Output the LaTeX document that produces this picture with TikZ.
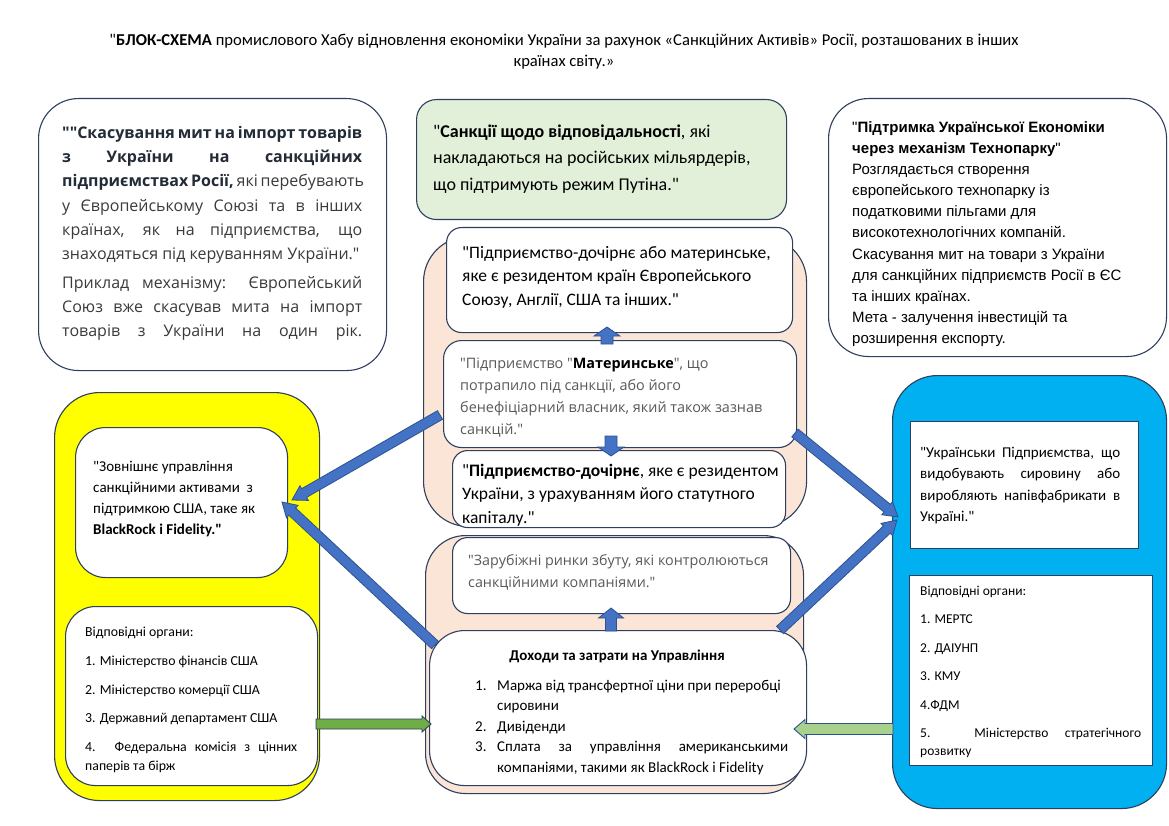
\documentclass[tikz,border=0pt]{standalone}
\usepackage{fontspec}
\setmainfont{Carlito}[Ligatures=TeXOff]
\newfontfamily\osans{Open Sans}
\newfontfamily\lsans{Liberation Sans}
\usetikzlibrary{calc}
\definecolor{bordc}{HTML}{2F3F5F}
\definecolor{peach}{HTML}{FBE5D6}
\definecolor{lgreen}{HTML}{E2F0D9}
\definecolor{ybox}{HTML}{FFFF00}
\definecolor{bbox}{HTML}{00B0F0}
\definecolor{arrblue}{HTML}{4472C4}
\definecolor{arrline}{HTML}{2F528F}
\definecolor{garr}{HTML}{70AD47}
\definecolor{garrl}{HTML}{A9D18E}
\definecolor{greytxt}{HTML}{595959}
\definecolor{tltxt}{HTML}{3A3A3A}
\definecolor{tlbold}{HTML}{222B36}
\newcommand{\jl}[2]{\makebox[#1][s]{#2}}
\newcommand{\fs}[2]{\fontsize{#1}{#2}\selectfont}
\newcommand{\st}{\rule{0pt}{1em}}
\newcommand{\barrow}[6]{%
  \coordinate (bP) at ($(#3)!#6!(#2)$);
  \filldraw[#1] ($(#2)!#4!90:(#3)$) -- ($(bP)!#4!90:(#3)$) -- ($(bP)!#5!90:(#3)$) -- (#3)
    -- ($(bP)!#5!-90:(#3)$) -- ($(bP)!#4!-90:(#3)$) -- ($(#2)!#4!-90:(#3)$) -- cycle;}
\tikzset{
  box/.style={draw=bordc, line width=1.1pt, rectangle, anchor=north west, inner sep=0pt},
  txt/.style={anchor=north west, inner sep=0pt, align=left},
  trline/.style={anchor=base west, inner sep=0pt, font=\lsans\fs{15}{21}},
  bluearr/.style={fill=arrblue, draw=arrline, line width=0.8pt},
  greenarr/.style={fill=garr, draw=bordc, line width=0.9pt},
  lgreenarr/.style={fill=garrl, draw=arrline, line width=0.9pt},
}
\begin{document}
\begin{tikzpicture}[x=1pt,y=-1pt]
\useasboundingbox (0,0) rectangle (1169,826);
\fill[white] (0,0) rectangle (1169,826);

% title
\node[anchor=north, inner sep=0pt, align=center, font=\fs{16.6}{21}] (title) at (564,28.4)
 {\st"\textbf{БЛОК-СХЕМА} промислового Хабу відновлення економіки України за рахунок «Санкційних Активів» Росії, розташованих в інших\\країнах світу.»};

% top row boxes
\node[box, rounded corners=40pt, fill=white, minimum width=348pt, minimum height=272pt] (tl) at (38,98) {};
\node[box, rounded corners=20pt, fill=lgreen, minimum width=370pt, minimum height=120pt] (tm) at (416,99) {};
\node[box, rounded corners=40pt, fill=white, minimum width=338pt, minimum height=258pt] (tr) at (828,98) {};

\node[txt, font=\osans\fs{16}{24.3}, text=tltxt] (tltext) at (62,122) {\st\jl{300pt}{\textcolor{tlbold}{\textbf{""Скасування мит на імпорт товарів}}}\\
\jl{300pt}{\textcolor{tlbold}{\textbf{з України на санкційних}}}\\
\jl{300pt}{\textcolor{tlbold}{\textbf{підприємствах Росії,}} які перебувають}\\
\jl{300pt}{у Європейському Союзі та в інших}\\
\jl{300pt}{країнах, як на підприємства, що}\\
знаходяться під керуванням України."\\[4pt]
\jl{300pt}{Приклад механізму: Європейський}\\
\jl{300pt}{Союз вже скасував мита на імпорт}\\
\jl{300pt}{товарів з України на один рік.}};

\node[txt, font=\fs{18}{26.5}] (tmtext) at (433,119) {\st"\textbf{Санкції щодо відповідальності}, які\\накладаються на російських мільярдерів,\\що підтримують режим Путіна."};

\node[trline] (tr1) at (852,133) {"\textbf{Підтримка Української Економіки}};
\node[trline] (tr2) at (852,154) {\textbf{через механізм Технопарку}"};
\node[trline] (tr3) at (852,175) {Розглядається створення};
\node[trline] (tr4) at (852,196) {європейського технопарку із};
\node[trline] (tr5) at (852,217) {податковими пільгами для};
\node[trline] (tr6) at (852,238) {високотехнологічних компаній.};
\node[trline] (tr7) at (852,259) {Скасування мит на товари з України};
\node[trline] (tr8) at (852,280) {для санкційних підприємств Росії в ЄС};
\node[trline] (tr9) at (852,301) {та інших країнах.};
\node[trline] (tr10) at (852,322) {Мета - залучення інвестицій та};
\node[trline] (tr11) at (852,343) {розширення експорту.};

% left yellow group
\node[box, rounded corners=45pt, fill=ybox, minimum width=265pt, minimum height=408pt] (yel) at (54,392) {};
\node[box, rounded corners=30pt, fill=white, minimum width=212pt, minimum height=150pt] (fbox) at (75,427) {};
\node[box, rounded corners=30pt, fill=white, minimum width=252pt, minimum height=179pt] (gbox) at (65,606) {};
\node[txt, font=\fs{15}{21}] (ftext) at (93,456) {\st"Зовнішнє управління\\санкційними активами\ \ з\\підтримкою США, таке як\\\textbf{BlackRock і Fidelity."}};
\node[txt, font=\fs{13.8}{19}] (gtext) at (85,622.5) {\st Відповідні органи:\\[10pt]1. Міністерство фінансів США\\[10pt]2. Міністерство комерції США\\[9pt]3. Державний департамент США\\[10pt]\jl{212pt}{4. Федеральна комісія з цінних}\\паперів та бірж};

% right blue group
\node[box, rounded corners=45pt, fill=bbox, minimum width=274pt, minimum height=433pt] (blu) at (892,375) {};
\node[box, fill=white, minimum width=228pt, minimum height=127pt] (hbox) at (910,421) {};
\node[box, fill=white, minimum width=243pt, minimum height=190pt] (ibox) at (909,575) {};
\node[txt, font=\fs{15}{21.5}] (htext) at (920,442) {\st\jl{200pt}{"Українськи Підприємства, що}\\\jl{200pt}{видобувають сировину або}\\\jl{200pt}{виробляють напівфабрикати в}\\Україні."};
\node[txt, font=\fs{13.5}{18}] (itext) at (920,581.5) {\st Відповідні органи:\\[10.5pt]1. МЕРТС\\[10.5pt]2. ДАІУНП\\[10.5pt]3. КМУ\\[10.5pt]4.ФДМ\\[10pt]\jl{221pt}{5. Міністерство стратегічного}\\розвитку};

% middle upper group
\node[box, rounded corners=45pt, fill=peach, minimum width=383pt, minimum height=290pt] (peach1) at (423,236) {};
\node[box, rounded corners=15pt, fill=white, minimum width=346pt, minimum height=105pt] (abox) at (446,227) {};
\node[box, rounded corners=18pt, fill=white, minimum width=353pt, minimum height=107pt] (bbx) at (443,340) {};
\node[box, rounded corners=15pt, fill=white, minimum width=333pt, minimum height=77pt] (cbox) at (452,450) {};
\node[txt, font=\fs{17.5}{23.5}] (atext) at (462,240.5) {\st"Підприємство-дочірнє або материнське,\\яке є резидентом країн Європейського\\Союзу, Англії, США та інших."};
\node[txt, font=\osans\fs{14.4}{22}, text=greytxt] (btext) at (460,354) {\st"Підприємство "\textcolor{black}{\textbf{Материнське}}", що\\потрапило під санкції, або його\\бенефіціарний власник, який також зазнав\\санкцій."};
\node[txt, font=\fs{17.5}{23.5}] (ctext) at (462,458.5) {\st"\textbf{Підприємство-дочірнє}, яке є резидентом\\України, з урахуванням його статутного\\капіталу."};

% middle lower group
\node[box, rounded corners=40pt, fill=peach, minimum width=378pt, minimum height=258pt] (peach2) at (425,535) {};
\node[box, rounded corners=15pt, fill=white, minimum width=338pt, minimum height=76pt] (dbox) at (452,537) {};
\node[box, rounded corners=35pt, fill=white, minimum width=377pt, minimum height=155pt] (ebox) at (429,630) {};
\node[txt, font=\osans\fs{14.3}{22}, text=greytxt] (dtext) at (468,551) {\st"Зарубіжні ринки збуту, які контролюються\\санкційними компаніями."};
\node[anchor=north, inner sep=0pt, font=\fs{15}{20}] (etitle) at (617,645) {\st\textbf{Доходи та затрати на Управління}};
\node[txt, font=\fs{15}{20.5}] (etext) at (475,675) {\st\makebox[22pt][l]{1.}Маржа від трансфертної ціни при переробці\\
\hspace*{22pt}сировини\\
\makebox[22pt][l]{2.}Дивіденди\\
\makebox[22pt][l]{3.}\jl{291pt}{Сплата за управління американськими}\\
\hspace*{22pt}компаніями, такими як BlackRock і Fidelity};

% arrow end points
\coordinate (upAs) at (607,344);  \coordinate (upAe) at (607,327);
\coordinate (dnCs) at (611,436);  \coordinate (dnCe) at (611,456);
\coordinate (upDs) at (611,631);  \coordinate (upDe) at (611,608);
\coordinate (lA1s) at (440,415);  \coordinate (lA1e) at (292,500);
\coordinate (lA2s) at (435,645);  \coordinate (lA2e) at (282,502);
\coordinate (rA1s) at (795,433);  \coordinate (rA1e) at (898,517);
\coordinate (rA2s) at (780,630);  \coordinate (rA2e) at (897,520);
\coordinate (gAs) at (316,724);   \coordinate (gAe) at (431,724);
\coordinate (gBs) at (893,729);   \coordinate (gBe) at (794,729);

% block arrows
\barrow{bluearr}{upAs}{upAe}{6pt}{13pt}{9pt}
\barrow{bluearr}{dnCs}{dnCe}{6pt}{13pt}{9pt}
\barrow{bluearr}{upDs}{upDe}{5.5pt}{12.5pt}{10pt}
\barrow{bluearr}{lA1s}{lA1e}{5pt}{8.5pt}{14pt}
\barrow{bluearr}{lA2s}{lA2e}{5pt}{8.5pt}{14pt}
\barrow{bluearr}{rA1s}{rA1e}{5pt}{8.5pt}{14pt}
\barrow{bluearr}{rA2s}{rA2e}{5pt}{8.5pt}{14pt}
\barrow{greenarr}{gAs}{gAe}{5pt}{8pt}{9pt}
\barrow{lgreenarr}{gBs}{gBe}{5.5pt}{9.5pt}{11pt}
\end{tikzpicture}
\end{document}
